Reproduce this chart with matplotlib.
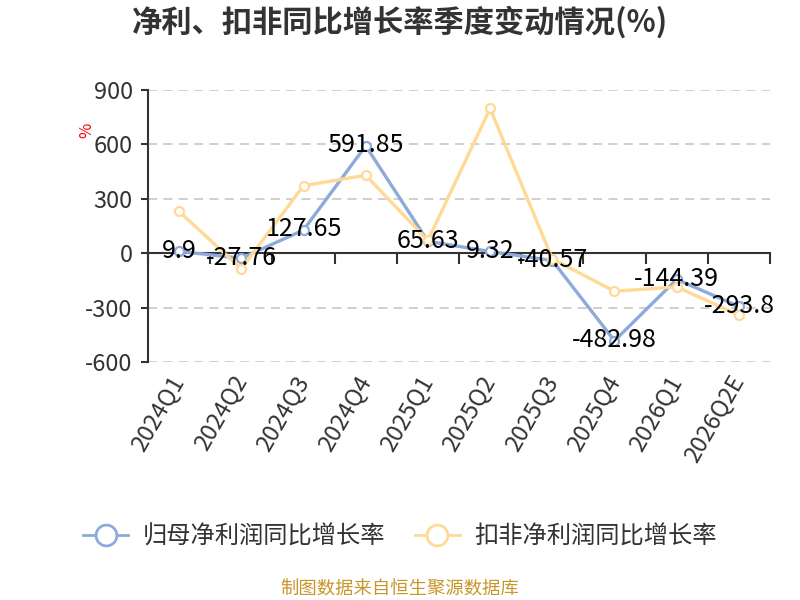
import matplotlib
matplotlib.use("Agg")
import matplotlib.pyplot as plt
from matplotlib.lines import Line2D

plt.rcParams['font.family'] = ['Noto Sans CJK SC', 'DejaVu Sans']
plt.rcParams['axes.unicode_minus'] = False

quarters = ["2024Q1", "2024Q2", "2024Q3", "2024Q4", "2025Q1", "2025Q2",
            "2025Q3", "2025Q4", "2026Q1", "2026Q2E"]
net_profit_yoy = [9.9, -27.76, 127.65, 591.85, 65.63, 9.32, -40.57, -482.98, -144.39, -293.8]
deducted_yoy = [230, -86, 372, 430, 70, 798, -31, -210, -186, -342]
net_labels = ["9.9", "-27.76", "127.65", "591.85", "65.63", "9.32", "-40.57", "-482.98", "-144.39", "-293.8"]
series_names = ["归母净利润同比增长率", "扣非净利润同比增长率"]
y_ticks = [-600, -300, 0, 300, 600, 900]

blue = "#8eaadb"
orange = "#ffd996"
text_c = "#333333"

fig = plt.figure(figsize=(8, 6), dpi=100)
ax = fig.add_axes([0.185, 0.3967, 0.7775, 0.4533])

x = list(range(len(quarters)))
ax.plot(x, net_profit_yoy, color=blue, lw=2.4, marker='o', ms=6.5,
        mfc='white', mec=blue, mew=1.6, zorder=3, solid_joinstyle='round')
ax.plot(x, deducted_yoy, color=orange, lw=2.4, marker='o', ms=6.5,
        mfc='white', mec=orange, mew=1.6, zorder=4, solid_joinstyle='round')

for xi, v, lab in zip(x, net_profit_yoy, net_labels):
    ax.annotate(lab, (xi, v), xytext=(0, 0.5), textcoords='offset points',
                ha='center', va='center', fontsize=18, color='black', zorder=6)

ax.set_xlim(-0.5, len(quarters) - 0.5)
ax.set_ylim(-600, 900)
ax.set_yticks(y_ticks)
ax.set_yticklabels([str(t) for t in y_ticks])
for t in y_ticks:
    if t != 0:
        ax.axhline(t, color='#cccccc', lw=1.3, ls=(0, (5, 3.5)), zorder=1)

# spines
for s in ['top', 'right']:
    ax.spines[s].set_visible(False)
ax.spines['left'].set_color(text_c)
ax.spines['left'].set_linewidth(1.5)
ax.spines['bottom'].set_position(('data', 0))
ax.spines['bottom'].set_color(text_c)
ax.spines['bottom'].set_linewidth(1.5)
ax.spines['bottom'].set_zorder(2)

ax.tick_params(axis='y', length=5, width=1.5, color=text_c, labelsize=17,
               labelcolor=text_c, pad=6)
ax.set_xticks([i - 0.5 for i in range(len(quarters) + 1)])
ax.tick_params(axis='x', length=8, width=1.5, color=text_c, labelbottom=False,
               direction='out')

sec = ax.secondary_xaxis('bottom')
sec.set_xticks(x)
sec.set_xticklabels(quarters, rotation=60, ha='right', va='center',
                    rotation_mode='anchor', fontsize=17, color=text_c)
sec.tick_params(length=0, pad=11)
sec.spines['bottom'].set_visible(False)

fig.text(0.108, 0.783, "%", color='red', fontsize=12, rotation=90,
         ha='center', va='center')

fig.text(0.5, 0.962, "净利、扣非同比增长率季度变动情况(%)", ha='center', va='center',
         fontsize=21.8, fontweight='bold', color=text_c)

handles = [Line2D([0], [0], color=blue, lw=2, marker='o', ms=15, mfc='white', mec=blue, mew=2),
           Line2D([0], [0], color=orange, lw=2, marker='o', ms=15, mfc='white', mec=orange, mew=2)]
fig.legend(handles, series_names, loc='center', bbox_to_anchor=(0.5, 0.105), ncol=2,
           frameon=False, fontsize=17.5, handlelength=1.85, columnspacing=1.2,
           handletextpad=0.6, labelcolor=text_c)

fig.text(0.5, 0.018, "制图数据来自恒生聚源数据库", ha='center', va='center',
         fontsize=13.2, color='#c9962b')

fig.savefig("out.png", dpi=100)
